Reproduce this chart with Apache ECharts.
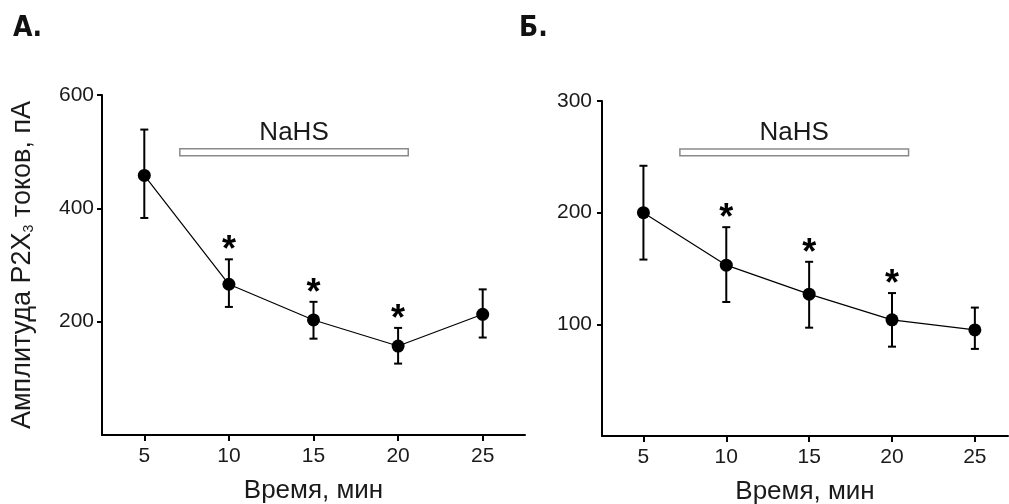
<!DOCTYPE html>
<html>
<head>
<meta charset="utf-8">
<script src="https://cdn.jsdelivr.net/npm/echarts@6/dist/echarts.min.js"></script>
<style>html,body{margin:0;padding:0;background:#fff}#c{width:1009px;height:504px}</style>
</head>
<body>
<div id="c"></div>
<script>
// ---- data ----
const times = [5, 10, 15, 20, 25];
const meanA = [458, 266, 203, 157, 213];
const errHiA = [539, 310, 235, 189, 257];
const errLoA = [383, 226, 170, 126, 172];
const sigA = [0, 1, 1, 1, 0];
const meanB = [200, 153, 127, 104, 95];
const errHiB = [242, 187, 156, 128, 115];
const errLoB = [158, 120, 97, 80, 78];
const sigB = [0, 1, 1, 1, 0];
const nahsXA = [7.1, 20.6], nahsYA = [493, 505];
const nahsXB = [7.2, 21.0], nahsYB = [251, 257];
const xTicks = [5, 10, 15, 20, 25];
const yTicksA = [200, 400, 600];
const yTicksB = [100, 200, 300];
const panelLabels = ['А.', 'Б.'];
const xTitle = 'Время, мин';
const treatment = 'NaHS';

const FONT = "'Liberation Sans', Arial, sans-serif";
const chart = echarts.init(document.getElementById('c'), null, {renderer: 'canvas'});

function errRender(params, api) {
  const x = api.value(0), hi = api.value(1), lo = api.value(2), s = api.value(3);
  const a = api.coord([x, hi]), b = api.coord([x, lo]);
  const cw = 4;
  const st = {stroke: '#000', lineWidth: 2};
  const ch = [
    {type: 'line', shape: {x1: a[0], y1: a[1], x2: b[0], y2: b[1]}, style: st},
    {type: 'line', shape: {x1: a[0] - cw, y1: a[1], x2: a[0] + cw, y2: a[1]}, style: st},
    {type: 'line', shape: {x1: b[0] - cw, y1: b[1], x2: b[0] + cw, y2: b[1]}, style: st}
  ];
  if (s) ch.push({type: 'text', x: a[0], y: a[1] - 8, style: {text: '*', fontSize: 36, fontWeight: 'bold', fontFamily: FONT, fill: '#000', align: 'center', verticalAlign: 'middle'}});
  return {type: 'group', children: ch};
}

function xAxisCfg(idx, max) {
  return {
    type: 'value', gridIndex: idx, min: 2.5, max: max,
    name: xTitle, nameLocation: 'middle', nameGap: 43,
    nameTextStyle: {fontSize: 26, color: '#1a1a1a', fontFamily: FONT},
    axisLine: {show: true, onZero: false, lineStyle: {color: '#000', width: 2}},
    axisTick: {show: true, customValues: xTicks, length: 6, lineStyle: {color: '#000', width: 2}},
    axisLabel: {customValues: xTicks, fontSize: 21, color: '#1a1a1a', fontFamily: FONT, margin: 11},
    splitLine: {show: false}
  };
}
function yAxisCfg(idx, max, ticks, name, margin) {
  const o = {
    type: 'value', gridIndex: idx, min: 0, max: max,
    axisLine: {show: true, lineStyle: {color: '#000', width: 2}},
    axisTick: {show: true, customValues: ticks, length: 5, lineStyle: {color: '#000', width: 2}},
    axisLabel: {customValues: ticks, fontSize: 21, color: '#1a1a1a', fontFamily: FONT, margin: margin},
    splitLine: {show: false}
  };
  if (name) {
    o.name = name; o.nameLocation = 'middle'; o.nameGap = 66;
    o.nameTextStyle = {fontSize: 27, color: '#1a1a1a', fontFamily: FONT,
      rich: {a: {fontSize: 27, color: '#1a1a1a', fontFamily: FONT}, s: {fontSize: 14, color: '#1a1a1a', fontFamily: FONT, verticalAlign: 'bottom', padding: [10, 0, 0, 0]}}};
  }
  return o;
}
function seriesFor(idx, mean, hi, lo, sig, nx, ny) {
  return [
    {type: 'custom', xAxisIndex: idx, yAxisIndex: idx, z: 2, renderItem: errRender,
     data: times.map((t, i) => [t, hi[i], lo[i], sig[i]]), silent: true},
    {type: 'line', xAxisIndex: idx, yAxisIndex: idx, z: 3,
     data: times.map((t, i) => [t, mean[i]]),
     symbol: 'circle', symbolSize: 13,
     itemStyle: {color: '#000'}, lineStyle: {color: '#000', width: 1.2},
     markArea: {silent: true, z: 1,
       itemStyle: {color: '#fff', borderColor: '#8a8a8a', borderWidth: 1.5},
       label: {show: true, position: 'top', distance: 2, formatter: treatment, fontSize: 26, color: '#1a1a1a', fontFamily: FONT},
       data: [[{coord: [nx[0], ny[0]]}, {coord: [nx[1], ny[1]]}]]}
    }
  ];
}

chart.setOption({
  animation: false,
  backgroundColor: '#fff',
  title: [
    {text: panelLabels[0], left: 8, top: 10, textStyle: {fontSize: 28, fontWeight: 'bold', color: '#111', fontFamily: "'Liberation Sans Narrow', 'DejaVu Sans Condensed', Arial, sans-serif"}},
    {text: panelLabels[1], left: 514, top: 10, textStyle: {fontSize: 28, fontWeight: 'bold', color: '#111', fontFamily: "'Liberation Sans Narrow', 'DejaVu Sans Condensed', Arial, sans-serif"}}
  ],
  grid: [
    {left: 102, top: 95, width: 423, height: 340, outerBoundsMode: 'none', containLabel: false},
    {left: 602, top: 101, width: 406, height: 335, outerBoundsMode: 'none', containLabel: false}
  ],
  xAxis: [xAxisCfg(0, 27.5), xAxisCfg(1, 27)],
  yAxis: [yAxisCfg(0, 600, yTicksA, '{a|Амплитуда P2X}{s|3}{a| токов, пА}', 8), yAxisCfg(1, 300, yTicksB, null, 10)],
  series: [].concat(
    seriesFor(0, meanA, errHiA, errLoA, sigA, nahsXA, nahsYA),
    seriesFor(1, meanB, errHiB, errLoB, sigB, nahsXB, nahsYB)
  )
});
</script>
</body>
</html>
